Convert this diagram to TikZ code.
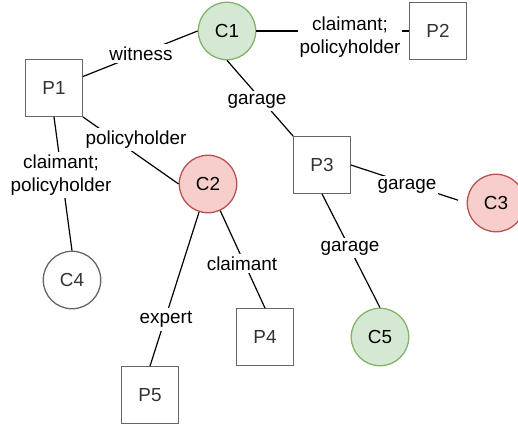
\documentclass[tikz,border=0pt]{standalone}
\usepackage{fontspec}
\setmainfont{Liberation Sans}
\definecolor{greenfill}{HTML}{D5E8D4}
\definecolor{greenline}{HTML}{82B366}
\definecolor{redfill}{HTML}{F8CECC}
\definecolor{redline}{HTML}{B85450}
\definecolor{grayline}{HTML}{666666}
\definecolor{graytext}{HTML}{333333}
\tikzset{
  base/.style={font=\fontsize{18.9}{22.7}\selectfont, inner sep=0pt, line width=1.3pt},
  person/.style={base, rectangle, draw=grayline, fill=white, text=graytext, minimum size=56.5pt},
  claimgreen/.style={base, circle, draw=greenline, fill=greenfill, minimum size=57.5pt},
  claimred/.style={base, circle, draw=redline, fill=redfill, minimum size=57.5pt},
  claimplain/.style={base, circle, draw=grayline, fill=white, text=graytext, minimum size=57.5pt},
  link/.style={line width=1.2pt, black},
  lbl/.style={font=\fontsize{18.9}{22.7}\selectfont, fill=white, inner xsep=2pt, inner ysep=3pt, align=center}
}
\begin{document}
\begin{tikzpicture}[x=1pt, y=-1pt]
\useasboundingbox (0,0) rectangle (518,430);
\clip (0,0) rectangle (518,430);

% claims and persons
\node[claimgreen] (C1) at (227,31) {C1};
\node[person] (P1) at (54,88) {P1};
\node[person] (P2) at (438,31) {P2};
\node[person] (P3) at (322,165) {P3};
\node[claimred] (C2) at (208,184) {C2};
\node[claimred] (C3) at (496,203) {C3};
\node[claimplain] (C4) at (72,280) {C4};
\node[claimgreen] (C5) at (380,337) {C5};
\node[person] (P4) at (265,337) {P4};
\node[person] (P5) at (150,395) {P5};

% relations
\draw[link] (C1.west) -- (P1);
\draw[link] (C1.east) -- (P2.west);
\draw[link] (C1.south) -- (P3.north west);
\draw[link] (P1.south east) -- (C2.west);
\draw[link] (P1.south) -- (C4.north);
\draw[link] (C2) -- (P5.north);
\draw[link] (C2) -- (P4.north);
\draw[link, shorten >=9pt] (P3.east) -- (C3.west);
\draw[link] (P3.south) -- (C5.north);

% relation labels
\node[lbl] (l1) at (141,53.5) {witness};
\node[lbl] (l2) at (350,37) {claimant;\\policyholder};
\node[lbl] (l3) at (257,101) {garage};
\node[lbl] (l4) at (136,139.5) {policyholder};
\node[lbl] (l5) at (61,175) {claimant;\\policyholder};
\node[lbl] (l6) at (166,319.5) {expert};
\node[lbl] (l7) at (242,263.5) {claimant};
\node[lbl] (l8) at (407,186) {garage};
\node[lbl] (l9) at (350,248) {garage};
\end{tikzpicture}
\end{document}
